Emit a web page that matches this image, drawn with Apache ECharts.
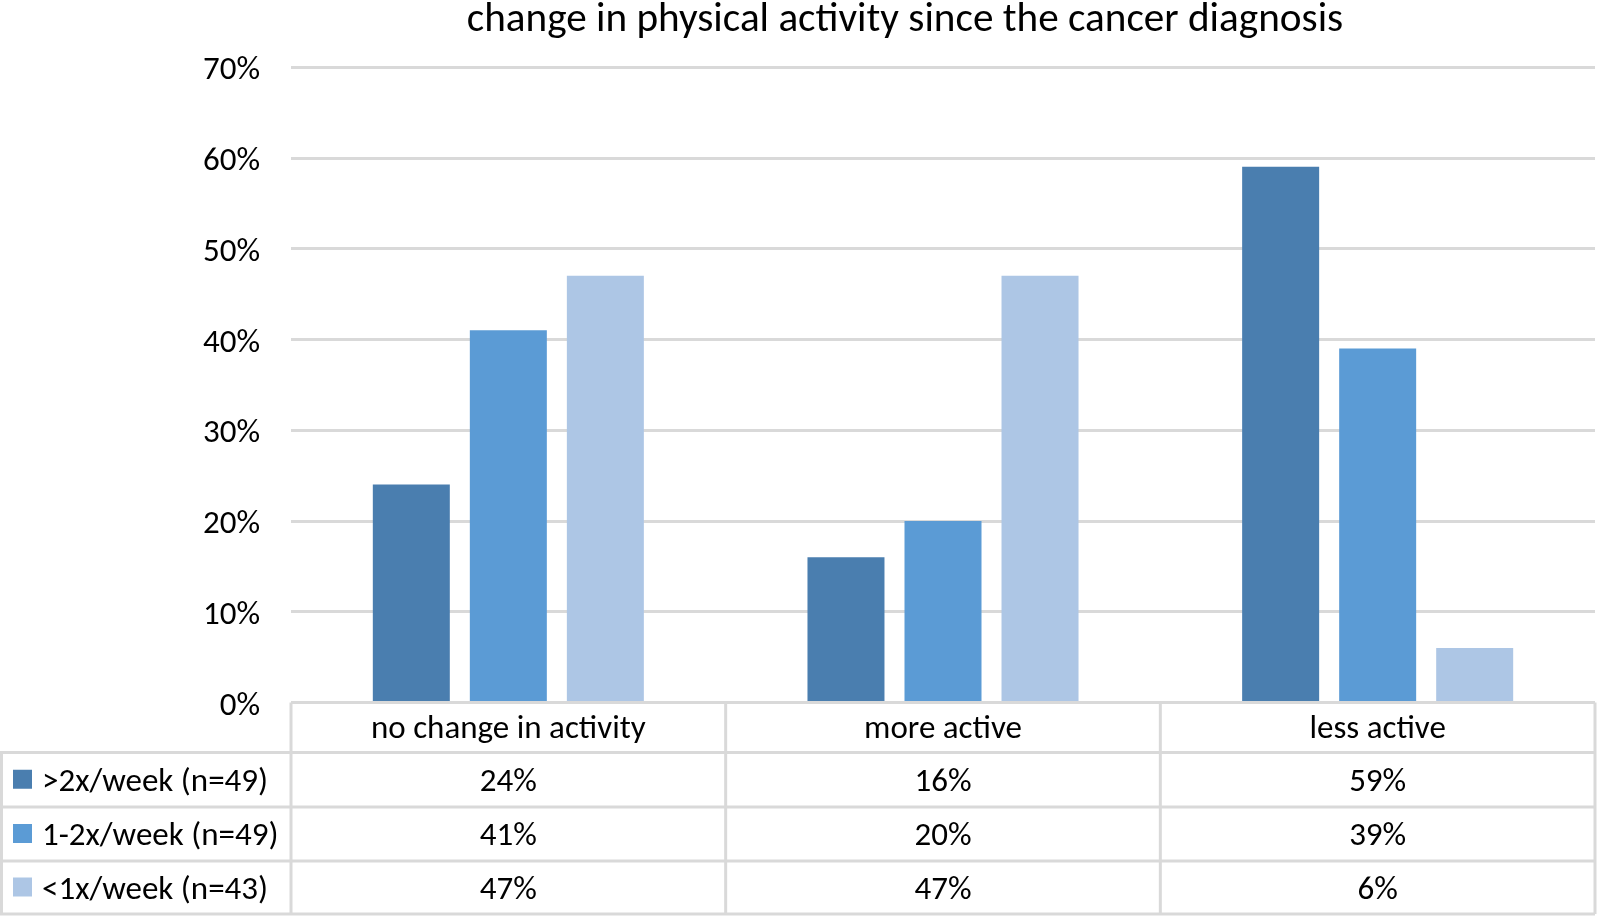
<!DOCTYPE html>
<html>
<head>
<meta charset="utf-8">
<script src="https://cdn.jsdelivr.net/npm/echarts@6/dist/echarts.min.js"></script>
<style>
html,body{margin:0;padding:0;background:#fff;}
#chart{width:1600px;height:916px;}
</style>
</head>
<body>
<div id="chart"></div>
<script>
// ---- data ----
const titleText = 'change in physical activity since the cancer diagnosis';
const categories = ['no change in activity', 'more active', 'less active'];
const seriesNames = ['>2x/week (n=49)', '1-2x/week (n=49)', '<1x/week (n=43)'];
const moreThan2 = [24, 16, 59];
const oneToTwo = [41, 20, 39];
const lessThan1 = [47, 47, 6];
const yTickValues = [0, 10, 20, 30, 40, 50, 60, 70];

// ---- style ----
const colors = ['#4A7EAF', '#5B9BD5', '#ADC6E5'];
const lineColor = '#D9D9D9';
const FONT = 'Carlito, Lato, sans-serif';
const seriesData = [moreThan2, oneToTwo, lessThan1];

function fitSize(text, target) {
  const c = document.createElement('canvas').getContext('2d');
  c.font = '100px ' + FONT;
  return target / c.measureText(text).width * 100;
}
const titleSize = fitSize(titleText, 876);
const bodySize = fitSize(seriesNames[0], 226);
const bodyFont = bodySize.toFixed(1) + 'px ' + FONT;

const G = {left: 291, right: 1595, top: 67, bottom: 702.5};
const rows = [702.5, 752.5, 807, 861, 914];
const textShift = 3;

const chart = echarts.init(document.getElementById('chart'), null, {renderer: 'canvas'});

const colW = (G.right - G.left) / categories.length;
const graphics = [];
const L = (x1, y1, x2, y2) => graphics.push({type: 'line', z: 10, shape: {x1, y1, x2, y2}, style: {stroke: lineColor, lineWidth: 3}});
L(G.left, rows[0], G.right, rows[0]);
for (let i = 1; i < rows.length; i++) L(0, rows[i], G.right, rows[i]);
for (let j = 0; j <= categories.length; j++) L(G.left + j * colW, rows[0], G.left + j * colW, rows[rows.length - 1]);
L(1.5, rows[1], 1.5, rows[rows.length - 1]);
const T = (text, x, y, align) => graphics.push({type: 'text', z: 11, x, y: y + textShift, style: {text, fill: '#000', font: bodyFont, textAlign: align, textVerticalAlign: 'middle'}});
categories.forEach((c, j) => T(c, G.left + (j + 0.5) * colW, (rows[0] + rows[1]) / 2 - 1, 'center'));
seriesNames.forEach((n, i) => {
  const yc = (rows[i + 1] + rows[i + 2]) / 2;
  graphics.push({type: 'rect', z: 11, shape: {x: 13, y: yc - 10, width: 19, height: 19}, style: {fill: colors[i]}});
  T(n, 42, yc, 'left');
  seriesData[i].forEach((v, j) => T(v + '%', G.left + (j + 0.5) * colW, yc, 'center'));
});
graphics.push({type: 'text', z: 11, x: 905, y: 21, style: {text: titleText, fill: '#000', font: titleSize.toFixed(1) + 'px ' + FONT, textAlign: 'center', textVerticalAlign: 'middle'}});

const option = {
  animation: false,
  backgroundColor: '#fff',
  color: colors,
  grid: {left: G.left, right: 1600 - G.right, top: G.top, bottom: 916 - G.bottom, containLabel: false},
  xAxis: {
    type: 'category', data: categories,
    axisLine: {show: false}, axisTick: {show: false}, axisLabel: {show: false}, splitLine: {show: false}
  },
  yAxis: {
    type: 'value', min: yTickValues[0], max: yTickValues[yTickValues.length - 1], interval: 10,
    axisLine: {show: false}, axisTick: {show: false}, axisLabel: {show: false},
    splitLine: {lineStyle: {color: lineColor, width: 3}}
  },
  series: seriesNames.map((n, i) => ({
    name: n, type: 'bar', data: seriesData[i], barWidth: 77, barGap: '26%',
    itemStyle: {color: colors[i]}, z: 5
  })),
  graphic: graphics
};
chart.setOption(option);

// y tick labels positioned through the value axis scale
yTickValues.forEach(v => {
  const py = chart.convertToPixel({yAxisIndex: 0}, v);
  graphics.push({type: 'text', z: 11, x: 260, y: py + 4, style: {text: v + '%', fill: '#000', font: bodyFont, textAlign: 'right', textVerticalAlign: 'middle'}});
});
chart.setOption({graphic: graphics}, {replaceMerge: ['graphic']});
</script>
</body>
</html>
